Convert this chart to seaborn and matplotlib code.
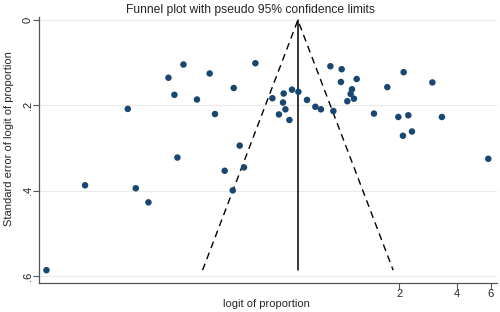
import matplotlib
matplotlib.use("Agg")
import matplotlib.pyplot as plt
import seaborn as sns
import pandas as pd
import numpy as np

# --- data (logit scale, standard error) ---
logit_prop = [-1.909, -2.090, -1.593, -1.303, -2.018, -1.746, -2.580, -1.529,
              -1.231, -1.982, -1.042, -0.138, -0.002, 0.745, 0.179, -0.011,
              1.091, 0.548, 0.122, -0.601, -0.524, -0.701, 0.106, -0.837,
              -0.420, 0.146, 0.066, -0.709, -0.319, -0.252, -0.680, -0.102,
              -0.758, -0.632, 0.387, 0.681, 0.801, 1.206, 0.736, 0.845,
              1.765, -1.412, -1.179, -3.095, -2.484, -1.315, -2.331, -3.560]
se_logit = [0.104, 0.135, 0.125, 0.159, 0.175, 0.186, 0.208, 0.220,
            0.294, 0.322, 0.101, 0.108, 0.115, 0.122, 0.138, 0.145,
            0.146, 0.157, 0.162, 0.163, 0.168, 0.172, 0.173, 0.183,
            0.187, 0.184, 0.190, 0.193, 0.203, 0.209, 0.209, 0.213,
            0.221, 0.234, 0.219, 0.227, 0.223, 0.227, 0.271, 0.261,
            0.325, 0.353, 0.345, 0.387, 0.394, 0.399, 0.427, 0.586]
pooled = -0.53
x_tick_vals = [2, 4, 6]
y_tick_vals = [0, 0.2, 0.4, 0.6]
y_tick_labels = ["0", ".2", ".4", ".6"]

df = pd.DataFrame({"logit": logit_prop, "se": se_logit})

# --- style ---
sns.set_theme(style="white")
plt.rcParams['font.family'] = ['Liberation Sans', 'DejaVu Sans']

fig = plt.figure(figsize=(5, 3.12), dpi=100)
ax = fig.add_axes([0.078, 0.093, 0.916, 0.852])

# funnel: pseudo 95% limits
se_max = df["se"].max()
ax.plot([pooled - 1.96 * se_max, pooled, pooled + 1.96 * se_max],
        [se_max, 0, se_max], color="black", lw=1.0, ls=(0, (5, 3.5)))
ax.plot([pooled, pooled], [0, se_max], color="black", lw=1.1)

sns.scatterplot(data=df, x="logit", y="se", ax=ax, color="#1a476f",
                s=22, edgecolor="none", zorder=3)

ax.set_xlim(-3.65, 1.87)
ax.set_ylim(0.616, -0.007)

ax.set_xticks(np.log(x_tick_vals))
ax.set_xticklabels([str(v) for v in x_tick_vals], fontsize=8)
ax.set_yticks(y_tick_vals)
ax.set_yticklabels(y_tick_labels, fontsize=8, rotation=90, va="center")
ax.tick_params(axis="both", direction="out", length=4, width=0.8,
               color="#555555", pad=0.5, left=True, bottom=True)

for y in y_tick_vals:
    ax.axhline(y, color="#eaeaea", lw=0.8, zorder=0)

sns.despine(ax=ax)
for side in ["left", "bottom"]:
    ax.spines[side].set_color("#555555")
    ax.spines[side].set_linewidth(0.9)

ax.set_xlabel("logit of proportion", fontsize=8)
ax.set_ylabel("Standard error of logit of proportion", fontsize=8)
ax.xaxis.set_label_coords(0.496, -0.062)
ax.yaxis.set_label_coords(-0.054, 0.545)
ax.set_title("Funnel plot with pseudo 95% confidence limits", fontsize=8.7,
             pad=3, x=0.461)

fig.savefig("out.png", dpi=100)
